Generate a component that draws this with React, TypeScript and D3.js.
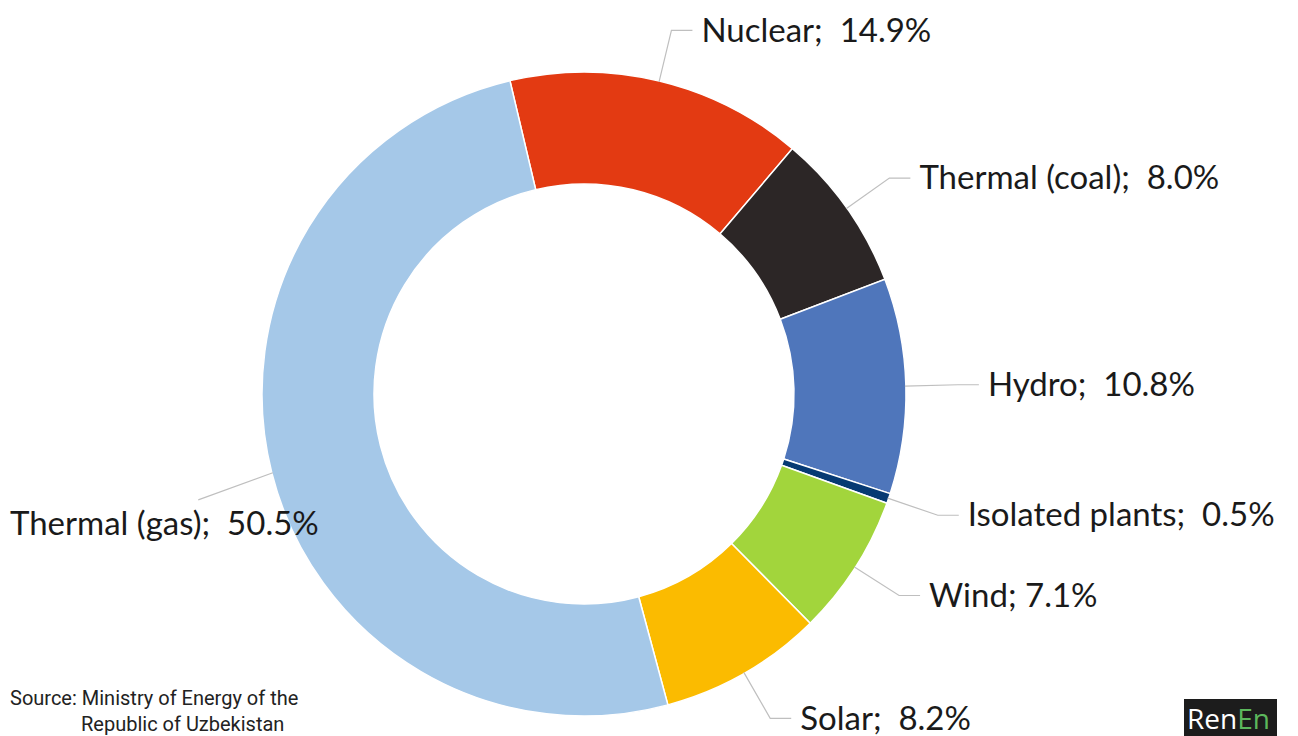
import React from "react";
import * as d3 from "d3";

const categories = ["Nuclear", "Thermal (coal)", "Hydro", "Isolated plants", "Wind", "Solar", "Thermal (gas)"];
const values = [14.9, 8.0, 10.8, 0.5, 7.1, 8.2, 50.5];
const separators = [";  ", ";  ", ";  ", ";  ", "; ", ";  ", ";  "];
const colors = ["#E33A12", "#2C2626", "#4F76BB", "#063A73", "#A2D53C", "#FBBB00", "#A5C8E8"];
const sourceLines = ["Source: Ministry of Energy of the", "Republic of Uzbekistan"];

const W = 1298;
const H = 736;
const cx = 584;
const cy = 394;
const outerR = 322;
const innerR = 210;
const startDeg = -13.3;
const labelFont = "Lato, 'Open Sans', sans-serif";
const labelSize = 33;

export default function App() {
  const data = categories.map((c, i) => ({ name: c, value: values[i], color: colors[i], sep: separators[i] }));
  const start = (startDeg * Math.PI) / 180;
  const pie = d3
    .pie<any>()
    .value((d) => d.value)
    .sort(null)
    .startAngle(start)
    .endAngle(start + 2 * Math.PI);
  const arcs = pie(data);
  const arcGen = d3.arc<any>().innerRadius(innerR).outerRadius(outerR);

  const pt = (a: number, r: number) => [cx + r * Math.sin(a), cy - r * Math.cos(a)];

  return (
    <svg width={W} height={H} style={{ position: "absolute", left: 0, top: 0, background: "#fff" }}>
      <g transform={`translate(${cx},${cy})`}>
        {arcs.map((a, i) => (
          <path key={i} d={arcGen(a) as string} fill={a.data.color} stroke="#fff" strokeWidth={1.5} />
        ))}
      </g>
      {arcs.map((a, i) => {
        const mid = (a.startAngle + a.endAngle) / 2;
        const [x0, y0] = pt(mid, outerR - 1);
        const right = Math.sin(mid) >= 0;
        const label = `${a.data.name}${a.data.sep}${a.data.value.toFixed(1)}%`;
        if (right) {
          const [x1, y1] = pt(mid, 374);
          const x2 = x1 + 21;
          return (
            <g key={i}>
              <polyline points={`${x0},${y0} ${x1},${y1} ${x2},${y1}`} fill="none" stroke="#bfbfbf" strokeWidth={1.2} />
              <text x={x2 + 9} y={y1} dy="0.34em" fontFamily={labelFont} fontSize={labelSize} fill="#1a1a1a" style={{ whiteSpace: "pre" }}>
                {label}
              </text>
            </g>
          );
        }
        const [x1, y1] = pt(mid - 0.02, 400);
        return (
          <g key={i}>
            <polyline points={`${x0},${y0} ${x1},${y1}`} fill="none" stroke="#bfbfbf" strokeWidth={1.2} />
            <text x={10} y={y1 + 24} dy="0.34em" fontFamily={labelFont} fontSize={labelSize} fill="#1a1a1a" style={{ whiteSpace: "pre" }}>
              {label}
            </text>
          </g>
        );
      })}
      <text fontFamily="Roboto, sans-serif" fontSize={20} fill="#222">
        <tspan x={10} y={705}>{sourceLines[0]}</tspan>
        <tspan x={81} y={731}>{sourceLines[1]}</tspan>
      </text>
      <rect x={1184} y={699} width={93} height={37} fill="#1c1c1c" />
      <text x={1187} y={729} fontFamily="'Open Sans', sans-serif" fontSize={28}>
        <tspan fill="#ffffff">Ren</tspan>
        <tspan fill="#5cb85c">En</tspan>
      </text>
    </svg>
  );
}
